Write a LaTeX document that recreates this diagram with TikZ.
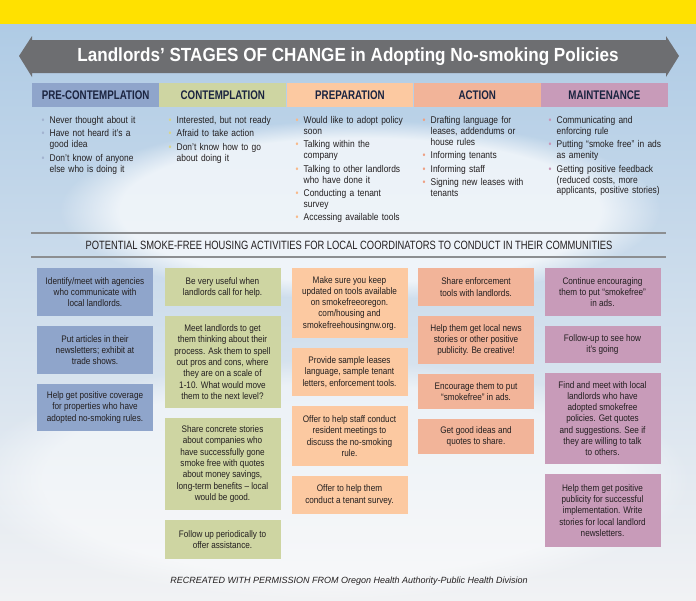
\documentclass[tikz,border=0pt]{standalone}
\usepackage{fontspec}
\setmainfont{Liberation Sans}[FakeStretch=0.86]
\newfontfamily\plainsans{Liberation Sans}
\newfontfamily\titlefont{Liberation Sans}[FakeStretch=0.9]
\newfontfamily\headfont{Liberation Sans}[FakeStretch=0.78]
\usetikzlibrary{positioning,fadings}
\definecolor{bandyellow}{HTML}{FFE100}
\definecolor{skytop}{HTML}{AFCBE5}
\definecolor{skymid}{HTML}{E3ECF5}
\definecolor{skylow}{HTML}{F1F2F4}
\definecolor{bannergray}{HTML}{6D6E71}
\definecolor{rulegray}{HTML}{8C8E91}
\definecolor{ink}{HTML}{231F20}
\definecolor{navy}{HTML}{1B2440}
\definecolor{preC}{HTML}{8FA5CB}
\definecolor{conC}{HTML}{CED5A2}
\definecolor{prpC}{HTML}{FCC9A1}
\definecolor{actC}{HTML}{F2B499}
\definecolor{mntC}{HTML}{C89BB9}
\definecolor{preB}{HTML}{A3B3D0}
\definecolor{conB}{HTML}{D9D58A}
\definecolor{prpB}{HTML}{F8B98A}
\definecolor{actB}{HTML}{EEA184}
\definecolor{mntB}{HTML}{C996B8}
% one bullet point of a stage list
\newcommand{\bitem}[2]{\hangindent=8pt\hangafter=1\noindent\makebox[8pt][l]{\textcolor{#1}{\textbullet}}#2\par}

\begin{document}
\begin{tikzpicture}[x=1pt, y=-1pt,
  node distance=9.5pt and 0pt,
  stage/.style={fill=#1, minimum width=126.8pt, minimum height=24pt, inner sep=0pt,
    text=navy, font=\headfont\fontsize{12.5}{14}\selectfont\bfseries},
  lst/.style={anchor=north west, text width=122pt, inner sep=0pt, align=left, text=ink,
    font=\fontsize{9.8}{10.9}\selectfont\setlength{\parskip}{2.6pt}},
  act/.style={fill=#1, minimum width=116pt, inner sep=2pt, align=center, text=ink,
    font=\fontsize{9.5}{11.3}\selectfont},
  rule/.style={draw=rulegray, line width=1.4pt}
]
\useasboundingbox (0,0) rectangle (696,600);
% background
\shade[top color=skytop, middle color=skymid, bottom color=skylow] (0,24) rectangle (696,600);
\fill[white, opacity=0.7, path fading=circle with fuzzy edge 20 percent] (360,210) ellipse [x radius=300, y radius=90];
\fill[white, opacity=0.5, path fading=circle with fuzzy edge 20 percent] (330,480) ellipse [x radius=360, y radius=120];
\fill[bandyellow] (0,0) rectangle (696,24);

% title banner
\fill[bannergray] (19,56) -- (32,36) -- (32,40) -- (666,40) -- (666,36) -- (679,56)
  -- (666,77) -- (666,73) -- (32,73) -- (32,77) -- cycle;
\node[text=white, font=\titlefont\fontsize{19}{21}\selectfont\bfseries] (title) at (348,57)
  {Landlords’ STAGES OF CHANGE in Adopting No-smoking Policies};

% stages
\node[stage=preC, anchor=north west] (pre) at (32,83) {PRE-CONTEMPLATION};
\node[stage=conC, right=of pre] (con) {CONTEMPLATION};
\node[stage=prpC, right=of con] (prp) {PREPARATION};
\node[stage=actC, right=of prp] (act) {ACTION};
\node[stage=mntC, right=of act] (mnt) {MAINTENANCE};

\node[lst] (l1) at (41.5,116) {\bitem{preB}{Never thought about it}
  \bitem{preB}{Have not heard it’s a\newline good idea}
  \bitem{preB}{Don’t know of anyone\newline else who is doing it}};
\node[lst] (l2) at (168.5,116) {\bitem{conB}{Interested, but not ready}
  \bitem{conB}{Afraid to take action}
  \bitem{conB}{Don’t know how to go\newline about doing it}};
\node[lst] (l3) at (295.5,116) {\bitem{prpB}{Would like to adopt policy\newline soon}
  \bitem{prpB}{Talking within the\newline company}
  \bitem{prpB}{Talking to other landlords\newline who have done it}
  \bitem{prpB}{Conducting a tenant\newline survey}
  \bitem{prpB}{Accessing available tools}};
\node[lst] (l4) at (422.5,116) {\bitem{actB}{Drafting language for\newline leases, addendums or\newline house rules}
  \bitem{actB}{Informing tenants}
  \bitem{actB}{Informing staff}
  \bitem{actB}{Signing new leases with\newline tenants}};
\node[lst] (l5) at (548.5,116) {\bitem{mntB}{Communicating and\newline enforcing rule}
  \bitem{mntB}{Putting “smoke free” in ads\newline as amenity}
  \bitem{mntB}{Getting positive feedback\newline (reduced costs, more\newline applicants, positive stories)}};

% activities heading
\draw[rule] (31,233) -- (666,233);
\node[text=ink, font=\headfont\fontsize{12}{14}\selectfont] (sub) at (349,245)
  {POTENTIAL SMOKE-FREE HOUSING ACTIVITIES FOR LOCAL COORDINATORS TO CONDUCT IN THEIR COMMUNITIES};
\draw[rule] (31,257) -- (666,257);

% activity boxes
\node[act=preC, minimum height=48pt, anchor=north] (a11) at (95,268)
  {Identify/meet with agencies\\who communicate with\\local landlords.};
\node[act=preC, minimum height=48pt, below=of a11] (a12)
  {Put articles in their\\newsletters; exhibit at\\trade shows.};
\node[act=preC, minimum height=47pt, below=of a12] (a13)
  {Help get positive coverage\\for properties who have\\adopted no-smoking rules.};

\node[act=conC, minimum height=38pt, anchor=north] (a21) at (222.5,268)
  {Be very useful when\\landlords call for help.};
\node[act=conC, minimum height=92pt, below=of a21] (a22)
  {Meet landlords to get\\them thinking about their\\process. Ask them to spell\\out pros and cons, where\\they are on a scale of\\1-10. What would move\\them to the next level?};
\node[act=conC, minimum height=92pt, below=of a22] (a23)
  {Share concrete stories\\about companies who\\have successfully gone\\smoke free with quotes\\about money savings,\\long-term benefits – local\\would be good.};
\node[act=conC, minimum height=39pt, below=of a23] (a24)
  {Follow up periodically to\\offer assistance.};

\node[act=prpC, minimum height=70pt, anchor=north] (a31) at (349.5,268)
  {Make sure you keep\\updated on tools available\\on smokefreeoregon.\\com/housing and\\smokefreehousingnw.org.};
\node[act=prpC, minimum height=48pt, below=of a31] (a32)
  {Provide sample leases\\language, sample tenant\\letters, enforcement tools.};
\node[act=prpC, minimum height=60pt, below=of a32] (a33)
  {Offer to help staff conduct\\resident meetings to\\discuss the no-smoking\\rule.};
\node[act=prpC, minimum height=38pt, below=of a33] (a34)
  {Offer to help them\\conduct a tenant survey.};

\node[act=actC, minimum height=38pt, anchor=north] (a41) at (476,268)
  {Share enforcement\\tools with landlords.};
\node[act=actC, minimum height=48pt, below=of a41] (a42)
  {Help them get local news\\stories or other positive\\publicity. Be creative!};
\node[act=actC, minimum height=35pt, below=of a42] (a43)
  {Encourage them to put\\“smokefree” in ads.};
\node[act=actC, minimum height=35pt, below=of a43] (a44)
  {Get good ideas and\\quotes to share.};

\node[act=mntC, minimum height=48pt, anchor=north] (a51) at (602.5,268)
  {Continue encouraging\\them to put “smokefree”\\in ads.};
\node[act=mntC, minimum height=37pt, below=of a51] (a52)
  {Follow-up to see how\\it’s going};
\node[act=mntC, minimum height=91pt, below=of a52] (a53)
  {Find and meet with local\\landlords who have\\adopted smokefree\\policies. Get quotes\\and suggestions. See if\\they are willing to talk\\to others.};
\node[act=mntC, minimum height=73pt, below=of a53] (a54)
  {Help them get positive\\publicity for successful\\implementation. Write\\stories for local landlord\\newsletters.};

\node[text=ink, font=\plainsans\itshape\fontsize{9}{11}\selectfont] (credit) at (349,581)
  {RECREATED WITH PERMISSION FROM Oregon Health Authority-Public Health Division};
\end{tikzpicture}
\end{document}
